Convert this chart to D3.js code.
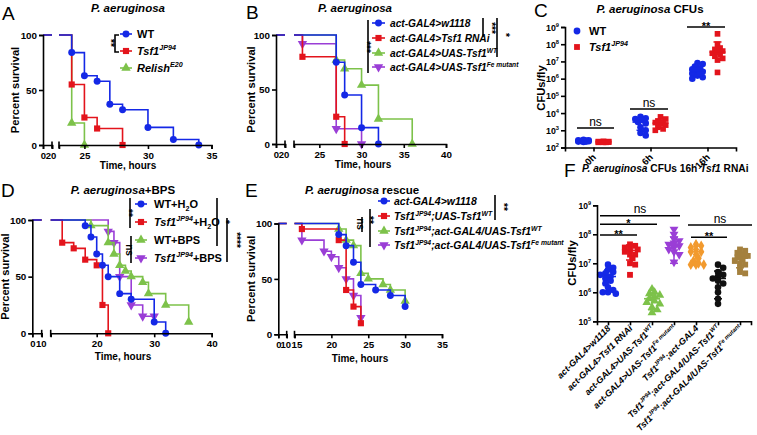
<!DOCTYPE html>
<html><head><meta charset="utf-8">
<script src="https://cdn.jsdelivr.net/npm/d3@7"></script>
<style>body{margin:0;background:#fff}svg{display:block}text{font-family:"Liberation Sans",Arial,Helvetica,sans-serif}</style>
</head><body><svg id="c" width="757" height="435"></svg>
<script>
// ---------------- DATA ----------------
// Panel A (Kaplan-Meier: time of drop, percent surviving after drop)
const A_WT_t = [24,25,26,27,28,30,32,34];      const A_WT_s = [84,63,58,37,32,16,5,0];
const A_TSF_t = [24,25,26,28];                 const A_TSF_s = [55,25,15,0];
const A_REL_t = [24,25];                       const A_REL_s = [20,0];
// Panel B
const B_W_t = [27,28,30,32];                   const B_W_s = [75,45,15,0];
const B_RNAI_t = [23,27,28];                   const B_RNAI_s = [80,25,0];
const B_UWT_t = [27,28,30,32,36];              const B_UWT_s = [77,69,54,23,0];
const B_UFE_t = [23,27,30];                    const B_UFE_s = [92,14,0];
// Panel D
const D_WTH_t = [18,19,20,21,22,24,26,30,32];  const D_WTH_s = [95,85,70,60,50,35,30,10,0];
const D_TSH_t = [14,16,18,20,21,22];           const D_TSH_s = [80,75,65,60,25,0];
const D_WTB_t = [19,22,23,24,25,26,28,29,32,36]; const D_WTB_s = [95,80,70,60,55,50,45,35,25,10];
const D_TSB_t = [22,23,24,26,28,30];           const D_TSB_s = [90,80,50,25,15,15];
// Panel E
const E_W_t = [21,22,23,24,26,28,30];          const E_W_s = [90,80,65,45,40,35,25];
const E_UWT_t = [16,21,22,23,24];              const E_UWT_s = [95,85,40,25,10];
const E_AWT_t = [21,22,23,24,25,27,28,30];     const E_AWT_s = [95,85,80,55,50,45,40,30];
const E_AFE_t = [16,19,20,21,22,23,24];        const E_AFE_s = [85,75,70,60,50,35,15];
// Panel C (CFUs per fly)
const C_groups = ['0h','6h','16h'];
const C_WT_0h = [280,260,250,240,230,220,220,210,260,240];
const C_WT_6h = [6000,5000,4000,3000,2500,1500,1000,700,500,4500];
const C_WT_16h = [8e6,7e6,5e6,4e6,3e6,2.5e6,2e6,1.5e6,1.2e6,1e6,3.5e6,2e6];
const C_TS_0h = [230,220,210,200,200,210,220,200,210,205];
const C_TS_6h = [6000,4500,3500,3000,2500,2000,1500,1200,1000,2800];
const C_TS_16h = [4e8,1e8,6e7,5e7,4e7,3e7,2.5e7,2e7,1.5e7,1.2e7,2.3e6,3.5e7];
const C_WT_mean = [240,3000,3e6];   const C_WT_sd = [30,2000,1.8e6];
const C_TS_mean = [215,2600,3.5e7]; const C_TS_sd = [12,1300,1e8];
const C_yTicks = [1e2,1e3,1e4,1e5,1e6,1e7,1e8,1e9];
// Panel F
const F_F1 = [9e6,7e6,6e6,5e6,4.5e6,4e6,3.5e6,3e6,2.5e6,2e6,1.5e6,1.2e6,1e6,1e6,9e5];
const F_F2 = [4.5e7,4e7,3.5e7,3e7,3e7,2.5e7,2e7,2e7,1.5e7,1e7,9e6,4e6];
const F_F3 = [1.3e6,1e6,9e5,8e5,7e5,6e5,5e5,4.5e5,4e5,3e5,2.5e5,2e5];
const F_F4 = [1.5e8,1e8,7e7,6e7,5e7,4.5e7,4e7,3.5e7,3e7,2.5e7,2e7,1.1e7];
const F_F5 = [4.5e7,4e7,3.5e7,3e7,2.5e7,2.5e7,2e7,1.5e7,1.2e7,1e7,9e6,9e6,9e6];
const F_F6 = [9e6,7e6,5e6,4e6,3.5e6,3e6,2.5e6,2e6,1.5e6,1e6,6e5,4e5];
const F_F7 = [3e7,2.7e7,2.3e7,2e7,1.8e7,1.6e7,1.4e7,1.2e7,1e7,9e6,7e6,5e6,4.5e6];
const F_mean = [3.5e6,2.8e7,6e5,4.5e7,2.5e7,3e6,1.5e7];
const F_sd = [2.4e6,1.5e7,3.5e5,3.5e7,1.4e7,2.4e6,8e6];
const F_yTicks = [1e5,1e6,1e7,1e8,1e9];
const F_cats = ['w1118','RNAi','UASWT','UASFe','TsfAct','TsfActWT','TsfActFe'];

// ---------------- STYLE ----------------
const BLUE='#1428e6', RED='#e3141c', GREEN='#7dc24a', PURPLE='#9a3ed6',
      ORANGE='#f29a2e', BLACK='#111111', BROWN='#a4803e';
const svg = d3.select('#c');
svg.append('rect').attr('width',757).attr('height',435).attr('fill','#fff');

function rich(g, x, y, parts, size, opt={}) {
  const t = g.append('text').attr('x',x).attr('y',y).attr('font-size',size)
    .attr('font-weight', opt.normal?'normal':'bold').attr('text-anchor',opt.anchor||'start').attr('fill','#000');
  if (opt.transform) t.attr('transform',opt.transform);
  let shift=0;
  parts.forEach(([s,f=''])=>{
    const ts=t.append('tspan').text(s);
    if (f.includes('i')) ts.attr('font-style','italic');
    let target=0;
    if (f.includes('^')) target=-size*0.42;
    if (f.includes('_')) target=size*0.25;
    if (target!==shift){ts.attr('dy',target-shift);shift=target;}
    if (f.includes('^')||f.includes('_')) ts.attr('font-size',size*0.65);
  });
  return t;
}
function symType(s){return s==='square'?d3.symbolSquare:(s==='tri'||s==='tridown')?d3.symbolTriangle:s==='diamond'?d3.symbolDiamond:d3.symbolCircle;}
function mark(g,x,y,s,color,size){
  g.append('path').attr('d',d3.symbol().type(symType(s)).size(size)())
   .attr('transform',`translate(${x},${y})${s==='tridown'?' rotate(180)':''}`).attr('fill',color);
}
function styleAxis(sel,fs){
  sel.selectAll('path,line').attr('stroke','#000').attr('stroke-width',1.6);
  sel.selectAll('text').attr('font-size',fs).attr('font-weight','bold').attr('fill','#000')
     .attr('font-family','"Liberation Sans",Arial,sans-serif');
}
function letter(x,y,L){svg.append('text').attr('x',x).attr('y',y).attr('font-size',19).text(L);}
function vsig(x,y1,y2,label,lx,ly,fs=10){
  svg.append('line').attr('x1',x).attr('x2',x).attr('y1',y1).attr('y2',y2).attr('stroke','#000').attr('stroke-width',1.6);
  svg.append('text').attr('transform',`translate(${lx},${ly}) rotate(90)`).attr('text-anchor','middle')
     .attr('font-size',fs).attr('font-weight','bold').text(label);
}
function hsig(x1,x2,y,label,fs=11){
  svg.append('line').attr('x1',x1).attr('x2',x2).attr('y1',y).attr('y2',y).attr('stroke','#000').attr('stroke-width',1.6);
  const star = label.includes('*');
  svg.append('text').attr('x',(x1+x2)/2).attr('y',star?y+3:y-2.5).attr('text-anchor','middle')
     .attr('font-size',star?fs:fs+1).attr('font-weight',star?'bold':'normal').text(label);
}

// ---------------- Kaplan-Meier panel ----------------
function km(c){
  const g=svg.append('g');
  const y=d3.scaleLinear().domain([0,100]).range([c.y0,c.y100]);
  const x1=d3.scaleLinear().domain([0,c.brk]).range([c.ax,c.s1]);
  const x2=d3.scaleLinear().domain(c.dom2).range([c.s2a,c.s2b]);
  c.series.slice().reverse().forEach(se=>{
    let p=`M${x1(0)},${y(100)}H${x1(c.brk)}M${x2(c.dom2[0])},${y(100)}`;
    se.t.forEach((t,i)=>{p+=`H${x2(t)}V${y(se.s[i])}`;});
    g.append('path').attr('d',p).attr('fill','none').attr('stroke',se.color).attr('stroke-width',1.6);
    se.t.forEach((t,i)=>mark(g,x2(t),y(se.s[i]),se.sym,se.color,se.size||38));
  });
  const ya=g.append('g').attr('transform',`translate(${c.ax},0)`).call(d3.axisLeft(y).tickValues([0,50,100]).tickSizeOuter(0).tickSize(4).tickPadding(2));
  styleAxis(ya,9.8);
  const xa1=g.append('g').attr('transform',`translate(0,${c.y0})`).call(d3.axisBottom(x1).tickValues(c.ticks1).tickSizeOuter(0).tickSize(4).tickPadding(3));
  styleAxis(xa1,9.5);
  if (c.nudge1) xa1.selectAll('.tick text').attr('dx',(d,i)=>i===0?0:c.nudge1);
  const xa2=g.append('g').attr('transform',`translate(0,${c.y0})`).call(d3.axisBottom(x2).tickValues(c.ticks2).tickSizeOuter(0).tickSize(4).tickPadding(3));
  styleAxis(xa2,9.8);
  if (c.nudge2) xa2.selectAll('.tick text').attr('dx',(d,i)=>i===0?c.nudge2:0);
  [x1(c.brk),x2(c.dom2[0])].forEach(xx=>g.append('line').attr('x1',xx).attr('x2',xx).attr('y1',c.y0-3.5).attr('y2',c.y0+3.5).attr('stroke','#000').attr('stroke-width',1.6));
  rich(g,0,0,[['Percent survival']],11.2,{anchor:'middle',transform:`translate(${c.ylx},${(c.y0+c.y100)/2}) rotate(-90)`});
  rich(g,c.xtx,c.xty,[['Time, hours']],10,{anchor:'middle'});
  c.series.forEach((se,i)=>{
    const yy=c.leg.y[i];
    g.append('line').attr('x1',c.leg.x0).attr('x2',c.leg.x1).attr('y1',yy).attr('y2',yy).attr('stroke',se.color).attr('stroke-width',1.6);
    mark(g,(c.leg.x0+c.leg.x1)/2,yy,se.sym,se.color,se.size||38);
    rich(g,c.leg.tx,yy+4,se.label,c.leg.fs);
  });
}

// ---------------- A ----------------
letter(2,20,'A');
rich(svg,128,12,[['P. aeruginosa','i']],11.5,{anchor:'middle'});
km({ax:43,y100:35,y0:145,brk:20,s1:52,s2a:59,s2b:211.5,dom2:[23,35],ticks1:[0,20],ticks2:[25,30,35],
  ylx:19,xtx:128,xty:169,nudge1:-1.5,
  leg:{x0:120,x1:132,tx:137,y:[34,51,68],fs:11},
  series:[
    {t:A_WT_t,s:A_WT_s,color:BLUE,sym:'circle',label:[['WT']]},
    {t:A_TSF_t,s:A_TSF_s,color:RED,sym:'square',label:[['Tsf1','i'],['JP94','i^']]},
    {t:A_REL_t,s:A_REL_s,color:GREEN,sym:'tri',label:[['Relish','i'],['E20','i^']]}
  ]});
svg.append('path').attr('d','M119,35H115V52H119').attr('fill','none').attr('stroke','#000').attr('stroke-width',1.6);
svg.append('text').attr('transform','translate(107,43) rotate(90)').attr('text-anchor','middle').attr('font-size',10).attr('font-weight','bold').text('**');

// ---------------- B ----------------
letter(246,19,'B');
rich(svg,355,12,[['P. aeruginosa','i']],11.5,{anchor:'middle'});
km({ax:276,y100:35,y0:144,brk:20,s1:285,s2a:294,s2b:446,dom2:[22,40],ticks1:[0,20],ticks2:[25,30,35,40],
  ylx:255,xtx:363,xty:168,nudge1:-1.5,
  leg:{x0:372,x1:385,tx:390,y:[23,38,53,67],fs:10.2},
  series:[
    {t:B_W_t,s:B_W_s,color:BLUE,sym:'circle',label:[['act-GAL4>w1118','i']]},
    {t:B_RNAI_t,s:B_RNAI_s,color:RED,sym:'square',label:[['act-GAL4>Tsf1 RNAi','i']]},
    {t:B_UWT_t,s:B_UWT_s,color:GREEN,sym:'tri',label:[['act-GAL4>UAS-Tsf1','i'],['WT','i^']]},
    {t:B_UFE_t,s:B_UFE_s,color:PURPLE,sym:'tridown',label:[['act-GAL4>UAS-Tsf1','i'],['Fe mutant','i^']]}
  ]});
vsig(368,20,73,'***',363,47);
vsig(483,18,37,'***',488,28);
vsig(497,18,57,'*',502,35);

// ---------------- D ----------------
letter(1,197,'D');
rich(svg,123,194,[['P. aeruginosa','i'],['+BPS']],11.5,{anchor:'middle'});
km({ax:32.3,y100:220,y0:333.3,brk:10,s1:41.7,s2a:50.7,s2b:211.7,dom2:[12,40],ticks1:[0,10],ticks2:[20,30,40],
  ylx:9,xtx:123,xty:360,nudge1:-1,
  leg:{x0:135,x1:147,tx:154,y:[204,222,240,258],fs:11},
  series:[
    {t:D_WTH_t,s:D_WTH_s,color:BLUE,sym:'circle',label:[['WT+H'],['2','_'],['O']]},
    {t:D_TSH_t,s:D_TSH_s,color:RED,sym:'square',label:[['Tsf1','i'],['JP94','i^'],['+H'],['2','_'],['O']]},
    {t:D_WTB_t,s:D_WTB_s,color:GREEN,sym:'tri',label:[['WT+BPS']]},
    {t:D_TSB_t,s:D_TSB_s,color:PURPLE,sym:'tridown',label:[['Tsf1','i'],['JP94','i^'],['+BPS']]}
  ]});
vsig(130,198,228,'**',125,213);
vsig(131,236,263,'ns',126,250);
vsig(217,198,246,'*',222,222);
vsig(227,218,262,'****',233,240);

// ---------------- E ----------------
letter(245,197,'E');
rich(svg,362,194,[['P. aeruginosa','i'],[' rescue']],11.5,{anchor:'middle'});
km({ax:278.3,y100:223.5,y0:334.3,brk:10,s1:286.7,s2a:294.5,s2b:442,dom2:[15,35],ticks1:[0,10],ticks2:[15,20,25,30,35],
  ylx:255,xtx:360,xty:362,nudge1:-1.5,nudge2:2,
  leg:{x0:378,x1:390,tx:394,y:[201,216,231,245],fs:10.5},
  series:[
    {t:E_W_t,s:E_W_s,color:BLUE,sym:'circle',label:[['act-GAL4>w1118','i']]},
    {t:E_UWT_t,s:E_UWT_s,color:RED,sym:'square',label:[['Tsf1','i'],['JP94','i^'],[';UAS-Tsf1','i'],['WT','i^']]},
    {t:E_AWT_t,s:E_AWT_s,color:GREEN,sym:'tri',label:[['Tsf1','i'],['JP94','i^'],[';act-GAL4/UAS-Tsf1','i'],['WT','i^']]},
    {t:E_AFE_t,s:E_AFE_s,color:PURPLE,sym:'tridown',label:[['Tsf1','i'],['JP94','i^'],[';act-GAL4/UAS-Tsf1','i'],['Fe mutant','i^']]}
  ]});
vsig(362,217,232,'ns',357,224);
vsig(370,209,247,'**',366,220);
vsig(495,195,220,'**',500,207);

// ---------------- dot-plot helpers ----------------
function swarm(ys,r,minD,step,maxOff){
  const idx=ys.map((v,i)=>i).sort((a,b)=>ys[a]-ys[b]);
  const placed=[],off=new Array(ys.length).fill(0);
  idx.forEach(i=>{
    let best=0,bestD=-1;
    for(let k=0;k<40;k++){
      const cand=k===0?0:(k%2?1:-1)*Math.ceil(k/2)*step;
      if(Math.abs(cand)>maxOff) break;
      const d=placed.length?Math.min(...placed.map(p=>Math.hypot(p.x-cand,p.y-ys[i]))):1e9;
      if(d>=minD){best=cand;bestD=d;break;}
      if(d>bestD){bestD=d;best=cand;}
    }
    off[i]=best;placed.push({x:best,y:ys[i]});
  });
  return off;
}
function dotGroup(g,xc,y,vals,mean,sd,color,sym,size,mw,cw,maxOff){
  const ys=vals.map(v=>y(v));
  const off=swarm(ys,3.5,4.2,2.6,maxOff);
  vals.forEach((v,i)=>mark(g,xc+off[i],ys[i],sym,color,size));
  const lo=mean-sd, hi=mean+sd;
  const yTop=y(hi), yLo=lo>0?y(lo):y(mean);
  g.append('line').attr('x1',xc).attr('x2',xc).attr('y1',yTop).attr('y2',yLo).attr('stroke',color).attr('stroke-width',1.5);
  g.append('line').attr('x1',xc-cw/2).attr('x2',xc+cw/2).attr('y1',yTop).attr('y2',yTop).attr('stroke',color).attr('stroke-width',1.5);
  if(lo>0) g.append('line').attr('x1',xc-cw/2).attr('x2',xc+cw/2).attr('y1',yLo).attr('y2',yLo).attr('stroke',color).attr('stroke-width',1.5);
  g.append('line').attr('x1',xc-mw/2).attr('x2',xc+mw/2).attr('y1',y(mean)).attr('y2',y(mean)).attr('stroke',color).attr('stroke-width',1.6);
}
function logAxis(g,ax,y,ticks,fs){
  const a=g.append('g').attr('transform',`translate(${ax},0)`).call(d3.axisLeft(y).tickValues(ticks).tickSizeOuter(0).tickSize(4).tickPadding(2).tickFormat(()=>''));
  styleAxis(a,fs);
  ticks.forEach(t=>{
    rich(g,ax-6,y(t)+3.5,[['10'],[String(Math.round(Math.log10(t))),'^']],fs,{anchor:'end'});
  });
}

// ---------------- C ----------------
letter(534,17,'C');
rich(svg,650,13,[['P. aeruginosa','i'],[' CFUs']],11.5,{anchor:'middle'});
(function(){
  const g=svg.append('g');
  const y=d3.scaleLog().domain([1e2,1e9]).range([147.5,27]);
  const x=d3.scalePoint().domain(C_groups).range([565,736]).padding(0.5);
  const wt=[C_WT_0h,C_WT_6h,C_WT_16h], ts=[C_TS_0h,C_TS_6h,C_TS_16h];
  C_groups.forEach((gname,i)=>{
    dotGroup(g,x(gname)-10,y,wt[i],C_WT_mean[i],C_WT_sd[i],BLUE,'circle',34,16,8,7);
    dotGroup(g,x(gname)+10,y,ts[i],C_TS_mean[i],C_TS_sd[i],RED,'square',32,16,8,7);
  });
  logAxis(g,565,y,C_yTicks,8.8);
  const xa=g.append('g').attr('transform','translate(0,147.5)').call(d3.axisBottom(x).tickSizeOuter(0).tickSize(4).tickFormat(()=>''));
  styleAxis(xa,9);
  C_groups.forEach(gn=>{
    g.append('text').attr('transform',`translate(${x(gn)+3},158) rotate(-45)`).attr('text-anchor','end')
     .attr('font-size',9.5).attr('font-weight','bold').text(gn);
  });
  rich(g,0,0,[['CFUs/fly']],11.2,{anchor:'middle',transform:'translate(545,88) rotate(-90)'});
  mark(g,577,31,'circle',BLUE,36); rich(g,589,35,[['WT']],11);
  mark(g,577,47,'square',RED,34); rich(g,589,51,[['Tsf1','i'],['JP94','i^']],11);
})();
hsig(577,614,128,'ns');
hsig(630,668,109,'ns');
hsig(687,725,27,'**');

// ---------------- F ----------------
letter(564,177,'F');
rich(svg,582,172,[['P. aeruginosa','i'],[' CFUs 16h '],['Tsf1','i'],[' RNAi']],10.2);
(function(){
  const g=svg.append('g');
  const y=d3.scaleLog().domain([1e5,1e9]).range([321.3,205.3]);
  const x=d3.scalePoint().domain(F_cats).range([597,751]).padding(0.5);
  const vals=[F_F1,F_F2,F_F3,F_F4,F_F5,F_F6,F_F7];
  const cols=[BLUE,RED,GREEN,PURPLE,ORANGE,BLACK,BROWN];
  const syms=['circle','square','tri','tridown','diamond','circle','square'];
  F_cats.forEach((c,i)=>dotGroup(g,x(c),y,vals[i],F_mean[i],F_sd[i],cols[i],syms[i],34,16,8,8));
  logAxis(g,597,y,F_yTicks,8.5);
  const xa=g.append('g').attr('transform','translate(0,321.3)').call(d3.axisBottom(x).tickSizeOuter(0).tickSize(4).tickFormat(()=>''));
  styleAxis(xa,9);
  const labs=[
    [['act-GAL4>w1118','i']],
    [['act-GAL4>Tsf1 RNAi','i']],
    [['act-GAL4>UAS-Tsf1','i'],['WT','i^']],
    [['act-GAL4>UAS-Tsf1','i'],['Fe mutant','i^']],
    [['Tsf1','i'],['JP94','i^'],[';act-GAL4','i']],
    [['Tsf1','i'],['JP94','i^'],[';act-GAL4/UAS-Tsf1','i'],['WT','i^']],
    [['Tsf1','i'],['JP94','i^'],[';act-GAL4/UAS-Tsf1','i'],['Fe mutant','i^']]
  ];
  F_cats.forEach((c,i)=>rich(g,0,0,labs[i],9,{anchor:'end',transform:`translate(${x(c)+3},329) rotate(-45)`}));
  rich(g,0,0,[['CFUs/fly']],11.2,{anchor:'middle',transform:'translate(576,263) rotate(-90)'});
})();
hsig(600,680,215.7,'ns');
hsig(600,657,224.3,'*');
hsig(600,637,235,'**');
hsig(688,752,225,'ns');
hsig(691,727,237.3,'**');
</script></body></html>
